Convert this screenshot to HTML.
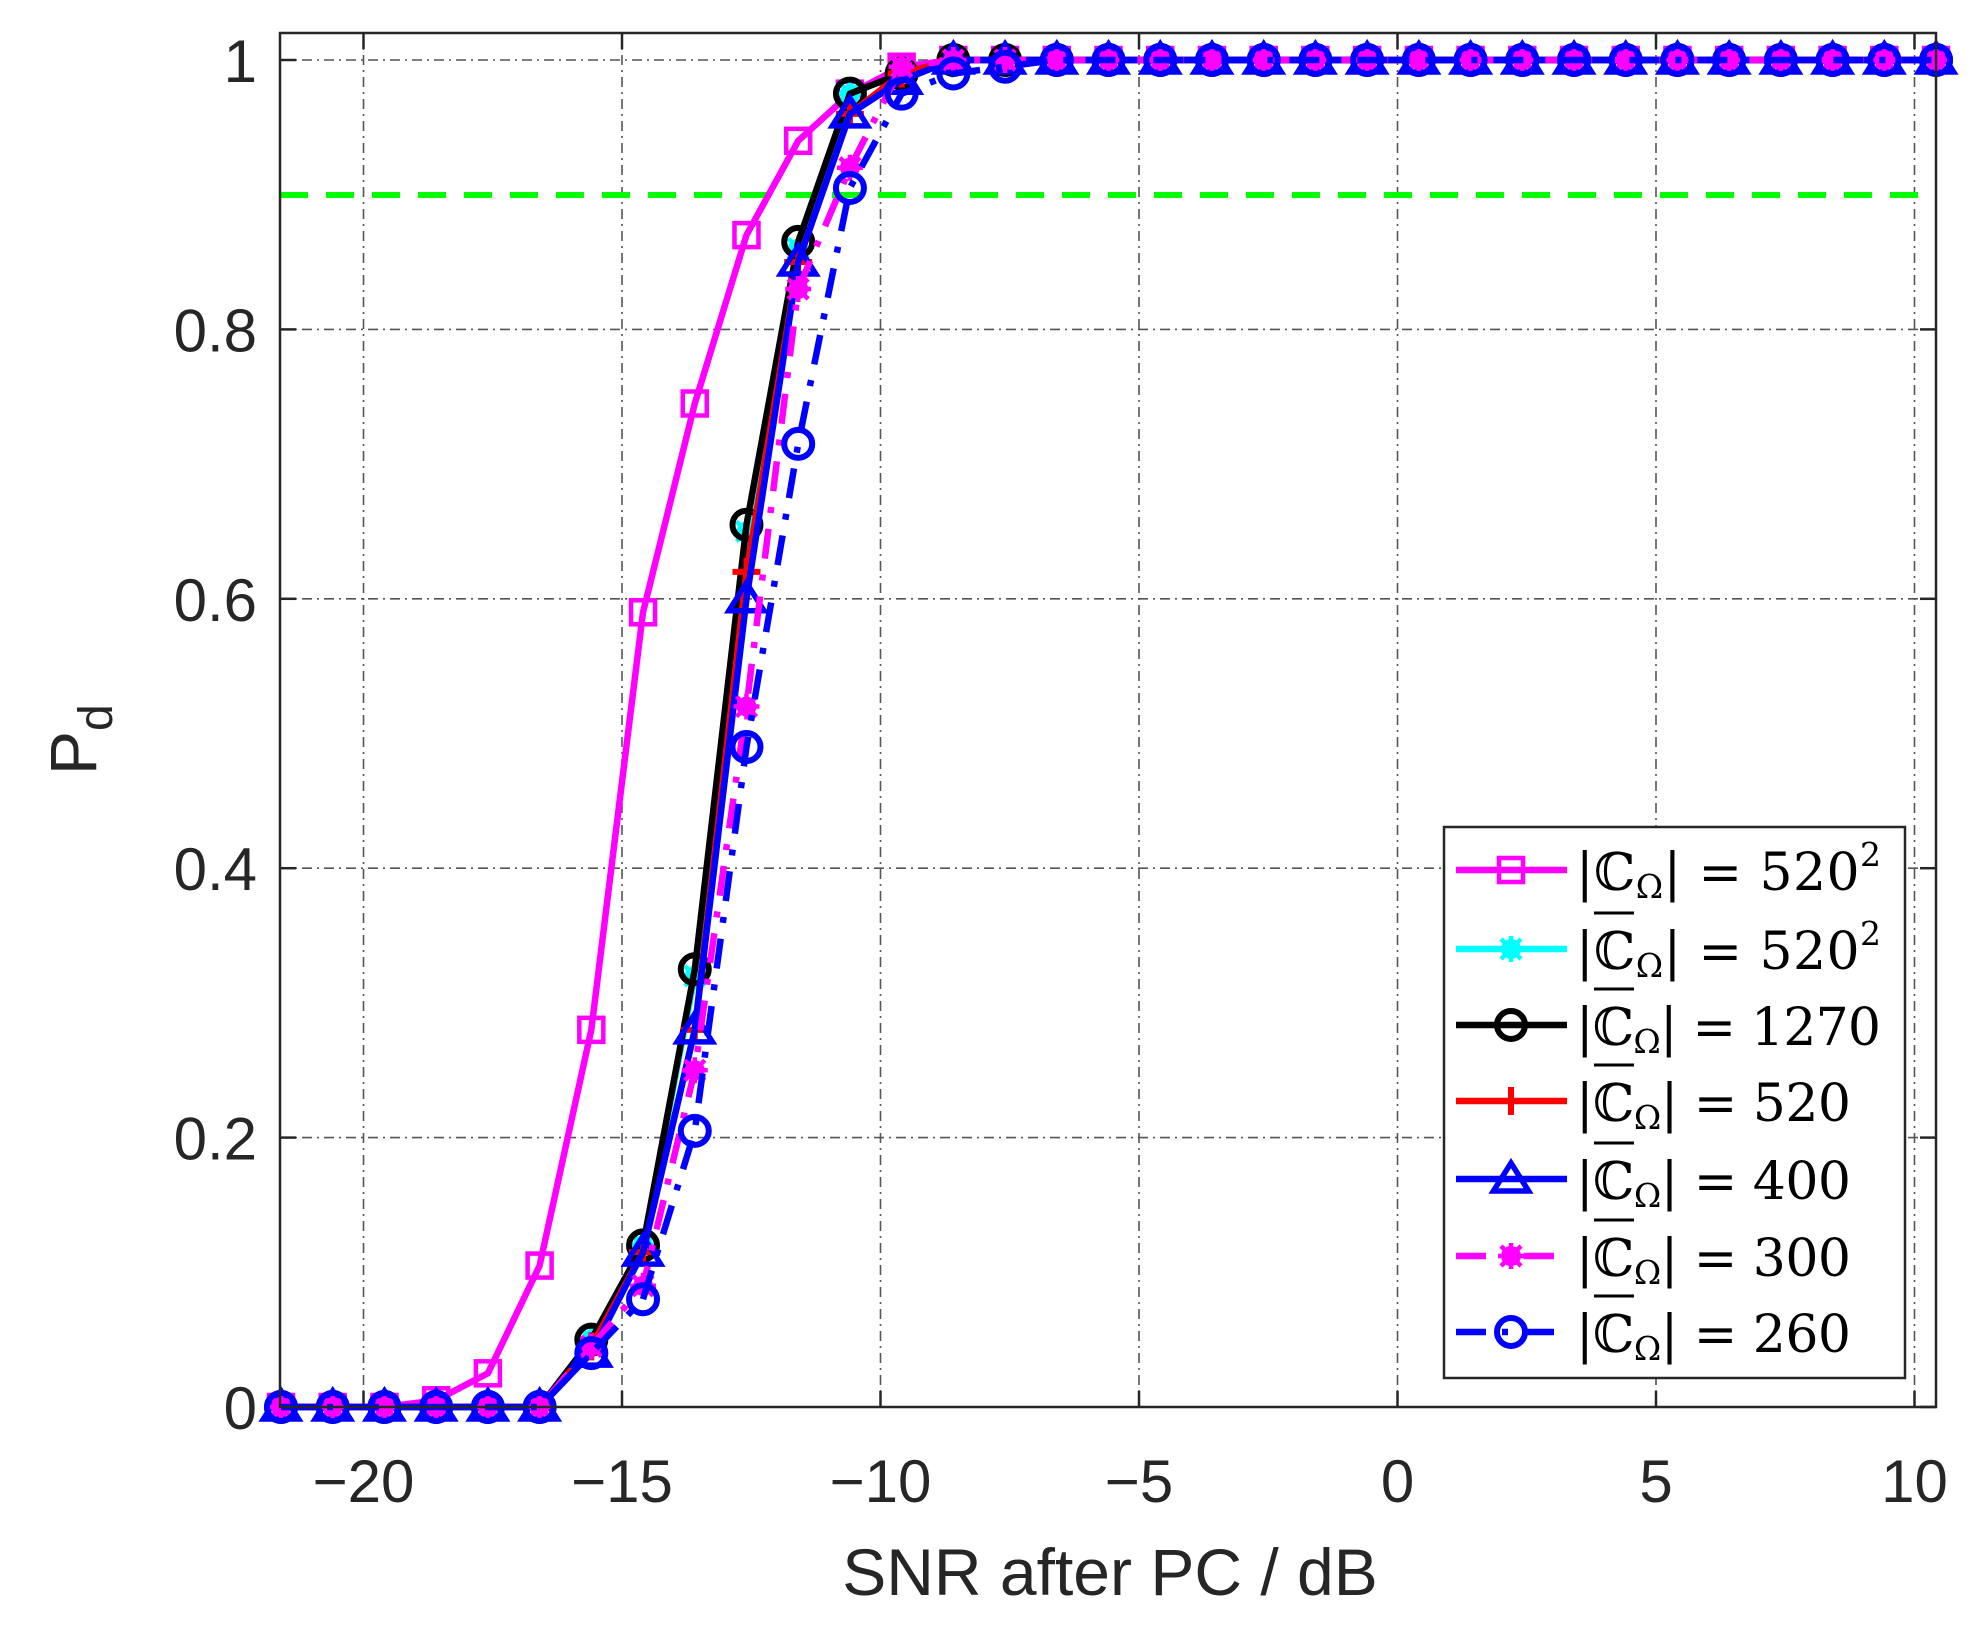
<!DOCTYPE html>
<html><head><meta charset="utf-8"><style>
html,body{margin:0;padding:0;background:#fff;}
svg{display:block;}
</style></head><body>
<svg id="s" width="1979" height="1627" viewBox="0 0 1979 1627" xmlns="http://www.w3.org/2000/svg">
<rect width="1979" height="1627" fill="#fff"/>
<g id="grid"></g>
<line x1="280" y1="195" x2="1936" y2="195" stroke="#00ff00" stroke-width="6" stroke-dasharray="28,18"/>
<g id="data"></g>
<rect x="280" y="33" width="1656" height="1374" fill="none" stroke="#262626" stroke-width="2.5"/>
<g id="ticks" font-family="Liberation Sans, sans-serif" font-size="60" fill="#262626"></g>
<text x="1110" y="1595" font-family="Liberation Sans, sans-serif" font-size="66" fill="#262626" text-anchor="middle">SNR after PC / dB</text>
<text transform="translate(96,775) rotate(-90)" font-family="Liberation Sans, sans-serif" font-size="66" fill="#262626">P<tspan font-size="48" dy="16">d</tspan></text>
<g id="legend"></g>
</svg>
<script>
var NS="http://www.w3.org/2000/svg";
function el(p,t,a){var e=document.createElementNS(NS,t);for(var k in a)e.setAttribute(k,a[k]);p.appendChild(e);return e;}
var X0=281,DX=51.72,Y0=1407,YS=1347;
function px(k){return X0+k*DX;}
function py(v){return Y0-v*YS;}
function xd(d){return 363.5+(d+20)*51.7;}
var grid=document.getElementById('grid'),ticks=document.getElementById('ticks');
[-20,-15,-10,-5,0,5,10].forEach(function(d){var x=xd(d);
 el(grid,'line',{x1:x,y1:33,x2:x,y2:1407,stroke:'#555',"stroke-width":1.6,"stroke-dasharray":"10,5,2,5"});
 el(grid,'line',{x1:x,y1:1407,x2:x,y2:1391,stroke:'#262626',"stroke-width":2.5});
 el(grid,'line',{x1:x,y1:33,x2:x,y2:49,stroke:'#262626',"stroke-width":2.5});
 var t=el(ticks,'text',{x:x,y:1502,"text-anchor":"middle"});t.textContent=(d<0?'\u2212'+(-d):d);});
[0,0.2,0.4,0.6,0.8,1].forEach(function(v){var y=py(v);
 if(v>0) el(grid,'line',{x1:280,y1:y,x2:1936,y2:y,stroke:'#555',"stroke-width":1.6,"stroke-dasharray":"10,5,2,5"});
 el(grid,'line',{x1:280,y1:y,x2:296,y2:y,stroke:'#262626',"stroke-width":2.5});
 el(grid,'line',{x1:1920,y1:y,x2:1936,y2:y,stroke:'#262626',"stroke-width":2.5});
 var t=el(ticks,'text',{x:257,y:y+22,"text-anchor":"end"});t.textContent=(v==0?'0':v==1?'1':v.toFixed(1));});
function fill(a){while(a.length<33)a.push(1);return a;}
var S=[
 {c:'#ff00ff',m:'sq',d:fill([0,0,0,0.005,0.025,0.105,0.28,0.59,0.745,0.87,0.94,0.975,0.995])},
 {c:'#00ffff',m:'st',d:fill([0,0,0,0,0,0,0.05,0.12,0.32,0.65,0.86,0.975,0.99])},
 {c:'#000000',m:'ci',d:fill([0,0,0,0,0,0,0.05,0.12,0.325,0.655,0.865,0.975,0.99])},
 {c:'#ff0000',m:'pl',d:fill([0,0,0,0,0,0,0.045,0.115,0.28,0.62,0.85,0.96,0.99])},
 {c:'#0000ff',m:'tr',d:fill([0,0,0,0,0,0,0.04,0.115,0.28,0.6,0.85,0.96,0.985,1])},
 {c:'#ff00ff',m:'st',dash:'30,16,6,16',d:fill([0,0,0,0,0,0,0.045,0.09,0.25,0.52,0.83,0.92,0.995])},
 {c:'#0000ff',m:'ci',dash:'30,16,6,16',d:fill([0,0,0,0,0,0,0.04,0.08,0.205,0.49,0.715,0.905,0.975,0.99,0.995])}
];
function marker(g,m,x,y,c,sc){sc=sc||1;
 if(m=='sq'){var s=12*sc;el(g,'rect',{x:x-s,y:y-s,width:2*s,height:2*s,fill:'none',stroke:c,"stroke-width":4.5});}
 else if(m=='ci'){el(g,'circle',{cx:x,cy:y,r:14*sc,fill:'none',stroke:c,"stroke-width":6});}
 else if(m=='pl'){var s=14*sc;el(g,'path',{d:'M'+(x-s)+' '+y+'H'+(x+s)+'M'+x+' '+(y-s)+'V'+(y+s),stroke:c,"stroke-width":6});}
 else if(m=='tr'){var s=16*sc;el(g,'path',{d:'M'+x+' '+(y-s)+'L'+(x+s*1.1)+' '+(y+s*0.75)+'L'+(x-s*1.1)+' '+(y+s*0.75)+'Z',fill:'none',stroke:c,"stroke-width":5.5});}
 else if(m=='st'){var s=10*sc;el(g,'circle',{cx:x,cy:y,r:s,fill:c});
  el(g,'path',{d:'M'+(x-s*1.3)+' '+y+'H'+(x+s*1.3)+'M'+x+' '+(y-s*1.3)+'V'+(y+s*1.3)+'M'+(x-s)+' '+(y-s)+'L'+(x+s)+' '+(y+s)+'M'+(x+s)+' '+(y-s)+'L'+(x-s)+' '+(y+s),stroke:c,"stroke-width":4.5});}
}
var data=document.getElementById('data');
S.forEach(function(s){var g=el(data,'g',{});
 var d=s.d.map(function(v,k){return (k?'L':'M')+px(k).toFixed(1)+' '+py(v).toFixed(1);}).join('');
 var a={d:d,fill:'none',stroke:s.c,"stroke-width":6.5,"stroke-linejoin":'round'};if(s.dash)a["stroke-dasharray"]=s.dash;
 el(g,'path',a);
 s.d.forEach(function(v,k){marker(g,s.m,px(k),py(v),s.c);});
});
var lg=document.getElementById('legend');
el(lg,'rect',{x:1444,y:827,width:461,height:551,fill:'#fff',stroke:'#262626',"stroke-width":2.5});
var labs=[['520','2',false],['520','2',true],['1270','',true],['520','',true],['400','',true],['300','',true],['260','',true]];
var rows=[870,949,1025,1101,1179,1256,1332];
S.forEach(function(s,i){var y=rows[i];
 var a={x1:1456,y1:y,x2:1567,y2:y,stroke:s.c,"stroke-width":6.5};if(s.dash)a["stroke-dasharray"]=s.dash;
 el(lg,'line',a);marker(lg,s.m,1511,y,s.c);
 var t=el(lg,'text',{x:1576,y:y+20,"font-family":"DejaVu Serif, Liberation Serif, serif","font-size":52,fill:'#000',textLength:(labs[i][0].length==4||labs[i][1])?305:275});
 t.innerHTML='|\u2102<tspan font-size="33" dy="8">\u03A9</tspan><tspan dy="-8">| = '+labs[i][0]+'</tspan>'+(labs[i][1]?'<tspan font-size="33" dy="-24">2</tspan>':'');
 if(labs[i][2]) el(lg,'line',{x1:1594,y1:y-36,x2:1634,y2:y-36,stroke:'#000',"stroke-width":3});
});
</script>
</body></html>
